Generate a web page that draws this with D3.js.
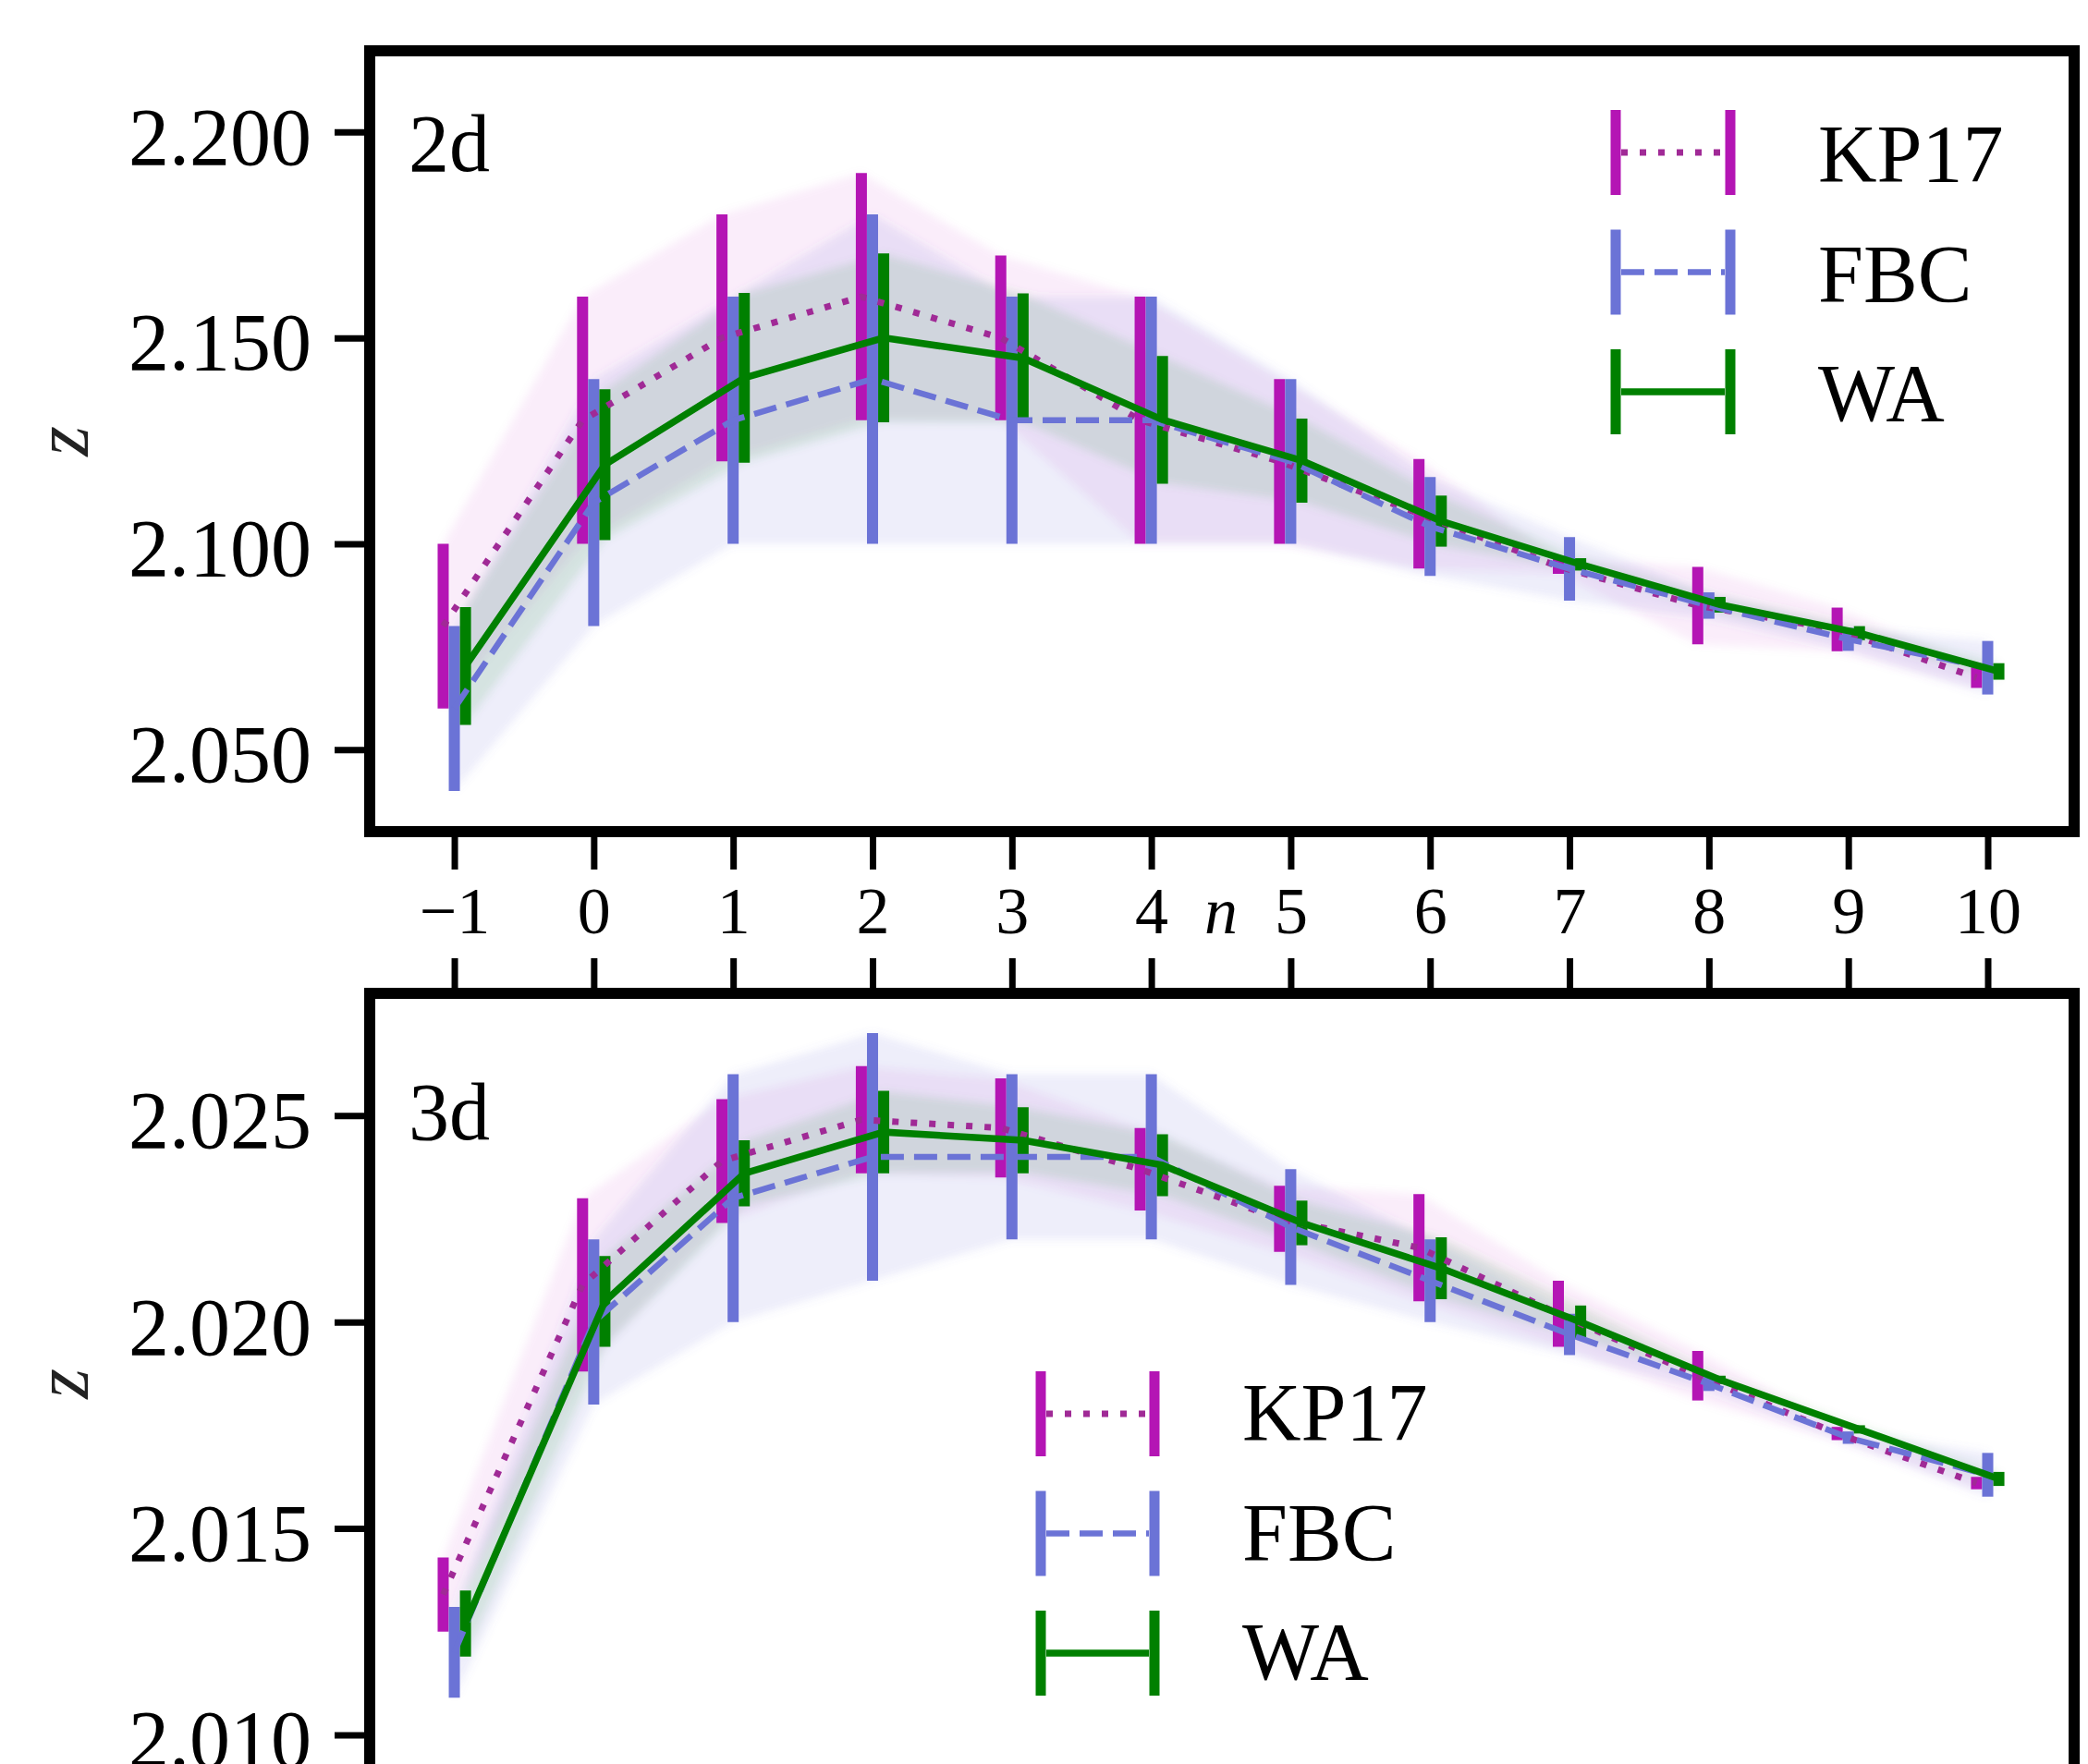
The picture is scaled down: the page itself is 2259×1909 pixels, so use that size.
<!DOCTYPE html>
<html><head><meta charset="utf-8">
<script src="https://cdn.jsdelivr.net/npm/d3@7"></script>
<style>body{margin:0;background:#fff;overflow:hidden} svg{display:block}</style>
</head><body>
<svg id="chart" width="2259" height="1909"></svg>
<script>
// ---------- data ----------
const nValues = [-1, 0, 1, 2, 3, 4, 5, 6, 7, 8, 9, 10];
const xTickLabels = ["\u22121", "0", "1", "2", "3", "4", "5", "6", "7", "8", "9", "10"];
const seriesNames = ["KP17", "FBC", "WA"];

// 2d panel
const kp17_2d     = [2.080, 2.130, 2.150, 2.160, 2.150, 2.130, 2.120, 2.1073, 2.0945, 2.0850, 2.0792, 2.0675];
const kp17_2d_err = [0.020, 0.030, 0.030, 0.030, 0.020, 0.030, 0.020, 0.0133, 0.0018, 0.0094, 0.0053, 0.0025];
const fbc_2d      = [2.060, 2.110, 2.130, 2.140, 2.130, 2.130, 2.120, 2.1042, 2.0939, 2.0850, 2.0768, 2.0699];
const fbc_2d_err  = [0.020, 0.030, 0.030, 0.040, 0.030, 0.030, 0.020, 0.0120, 0.0077, 0.0032, 0.0028, 0.0065];
const wa_2d       = [2.0703, 2.1192, 2.1403, 2.1500, 2.1451, 2.1301, 2.1202, 2.1055, 2.0950, 2.0852, 2.0783, 2.0690];
const wa_2d_err   = [0.0143, 0.0183, 0.0206, 0.0205, 0.0157, 0.0155, 0.0102, 0.0062, 0.0015, 0.0019, 0.0017, 0.0020];
const yTicks_2d   = [2.050, 2.100, 2.150, 2.200];

// 3d panel
const kp17_3d     = [2.0134, 2.0209, 2.0239, 2.0249, 2.0247, 2.0237, 2.0225, 2.0218, 2.0202, 2.0187, 2.0173, 2.0161];
const kp17_3d_err = [0.0009, 0.0021, 0.0015, 0.0013, 0.0012, 0.0010, 0.0008, 0.0013, 0.0008, 0.0006, 0.00016, 0.00015];
const fbc_3d      = [2.0120, 2.0200, 2.0230, 2.0240, 2.0240, 2.0240, 2.0223, 2.0210, 2.0197, 2.0185, 2.0172, 2.0163];
const fbc_3d_err  = [0.0011, 0.0020, 0.0030, 0.0030, 0.0020, 0.0020, 0.0014, 0.0010, 0.0005, 0.00017, 0.00015, 0.00053];
const wa_3d       = [2.0127, 2.0205, 2.0236, 2.0246, 2.0244, 2.0238, 2.0224, 2.0213, 2.0200, 2.0186, 2.0174, 2.0162];
const wa_3d_err   = [0.0008, 0.0011, 0.0008, 0.0010, 0.0008, 0.00075, 0.00054, 0.00075, 0.0004, 0.0001, 0.0001, 0.00017];
const yTicks_3d   = [2.010, 2.015, 2.020, 2.025];

// ---------- styles ----------
const colors   = ["#b415b4", "#6b73d6", "#008000"];
const lineCol  = ["#a02a96", "#6b73d6", "#008000"];
const dashes   = ["7,13", "25,11", null];
const lineW    = [7, 6.5, 7.5];
const bandOp   = [0.07, 0.12, 0.10];
const offsets  = [-0.08, 0, 0.08];
const FONT = "'Liberation Serif', 'Times New Roman', serif";

const svg = d3.select("#chart");
const defs = svg.append("defs");
defs.append("filter").attr("id", "soft").attr("x", "-5%").attr("y", "-5%").attr("width", "110%").attr("height", "110%")
  .append("feGaussianBlur").attr("stdDeviation", 5);

const xScale = d3.scaleLinear().domain([-1.607, 10.62]).range([400, 2244]);

function panel(cfg) {
  const g = svg.append("g");
  const y = d3.scaleLinear().domain(cfg.ydomain).range([cfg.bottom, cfg.top]);
  const series = cfg.data.map((s, i) => nValues.map((n, j) => ({n: n + offsets[i], v: s[0][j], e: s[1][j]})));

  // bands
  const bg = g.append("g").attr("filter", "url(#soft)");
  series.forEach((pts, i) => {
    bg.append("path").datum(pts)
      .attr("d", d3.area().x(d => xScale(d.n)).y0(d => y(d.v - d.e)).y1(d => y(d.v + d.e)))
      .attr("fill", colors[i]).attr("fill-opacity", bandOp[i]).attr("stroke", "none");
  });
  // error bars
  series.forEach((pts, i) => {
    g.append("g").selectAll("line").data(pts).join("line")
      .attr("x1", d => xScale(d.n)).attr("x2", d => xScale(d.n))
      .attr("y1", d => y(d.v - d.e)).attr("y2", d => y(d.v + d.e))
      .attr("stroke", colors[i]).attr("stroke-width", 12);
  });
  // lines
  series.forEach((pts, i) => {
    const p = g.append("path").datum(pts)
      .attr("d", d3.line().x(d => xScale(d.n)).y(d => y(d.v)))
      .attr("fill", "none").attr("stroke", lineCol[i]).attr("stroke-width", lineW[i]);
    if (dashes[i]) p.attr("stroke-dasharray", dashes[i]);
  });

  // y axis
  const ya = g.append("g").attr("transform", `translate(${xScale.range()[0]},0)`)
    .call(d3.axisLeft(y).tickValues(cfg.yticks).tickFormat(d3.format(".3f"))
      .tickSizeInner(38).tickSizeOuter(0).tickPadding(25));
  ya.select(".domain").remove();
  ya.selectAll(".tick line").attr("stroke", "#000").attr("stroke-width", 7);
  ya.selectAll(".tick text").attr("font-family", FONT).attr("font-size", 88)
    .attr("fill", "#000").attr("dy", "0.39em");

  // x axis ticks
  const xa = g.append("g").attr("transform", `translate(0,${cfg.xAxisTop ? cfg.top : cfg.bottom})`)
    .call((cfg.xAxisTop ? d3.axisTop(xScale) : d3.axisBottom(xScale))
      .tickValues(nValues)
      .tickFormat(cfg.xLabels ? ((d, i) => xTickLabels[i]) : () => "")
      .tickSizeInner(cfg.xAxisTop ? 38 : 41).tickSizeOuter(0));
  xa.select(".domain").remove();
  xa.selectAll(".tick line").attr("stroke", "#000").attr("stroke-width", 7);
  if (cfg.xLabels) {
    xa.selectAll(".tick text").attr("font-family", FONT).attr("font-size", 72)
      .attr("fill", "#000").attr("y", 110).attr("dy", 0);
    g.append("text").attr("x", xScale(4.5)).attr("y", cfg.bottom + 110)
      .attr("text-anchor", "middle").attr("font-family", FONT).attr("font-style", "italic")
      .attr("font-size", 72).text("n");
  }

  // frame
  g.append("rect").attr("x", xScale.range()[0]).attr("y", cfg.top)
    .attr("width", xScale.range()[1] - xScale.range()[0]).attr("height", cfg.bottom - cfg.top)
    .attr("fill", "none").attr("stroke", "#000").attr("stroke-width", 12);

  // y label
  g.append("text").attr("transform", `translate(95,${(cfg.top + cfg.bottom) / 2}) rotate(-90)`)
    .attr("text-anchor", "middle").attr("font-family", FONT).attr("font-style", "italic")
    .attr("font-size", 84).attr("fill", "#222").text("z");

  // panel label
  g.append("text").attr("x", 442).attr("y", cfg.labelY).attr("font-family", FONT)
    .attr("font-size", 88).attr("fill", "#000").text(cfg.label);

  // legend
  const L = cfg.legend;
  seriesNames.forEach((name, i) => {
    const cy = L.y0 + i * L.dy;
    const lg = g.append("g");
    [L.x1, L.x2].forEach(xx => lg.append("line").attr("x1", xx).attr("x2", xx)
      .attr("y1", cy - 46).attr("y2", cy + 46).attr("stroke", colors[i]).attr("stroke-width", 11));
    const ln = lg.append("line").attr("x1", L.x1 + 6).attr("x2", L.x2 - 6).attr("y1", cy).attr("y2", cy)
      .attr("stroke", lineCol[i]).attr("stroke-width", lineW[i]);
    if (dashes[i]) ln.attr("stroke-dasharray", dashes[i]);
    lg.append("text").attr("x", L.tx).attr("y", cy + L.base).attr("font-family", FONT)
      .attr("font-size", 88).attr("fill", "#000").text(name);
  });
}

panel({
  top: 55, bottom: 900, ydomain: [2.0301, 2.2197], yticks: yTicks_2d,
  data: [[kp17_2d, kp17_2d_err], [fbc_2d, fbc_2d_err], [wa_2d, wa_2d_err]],
  xLabels: true, xAxisTop: false, label: "2d", labelY: 185,
  legend: {x1: 1748, x2: 1872, y0: 165, dy: 129.5, tx: 1967, base: 31}
});
panel({
  top: 1075, bottom: 1920, ydomain: [2.00905, 2.02796], yticks: yTicks_3d,
  data: [[kp17_3d, kp17_3d_err], [fbc_3d, fbc_3d_err], [wa_3d, wa_3d_err]],
  xLabels: false, xAxisTop: true, label: "3d", labelY: 1233,
  legend: {x1: 1126, x2: 1249, y0: 1530, dy: 129.5, tx: 1344, base: 28}
});
</script>
</body></html>
